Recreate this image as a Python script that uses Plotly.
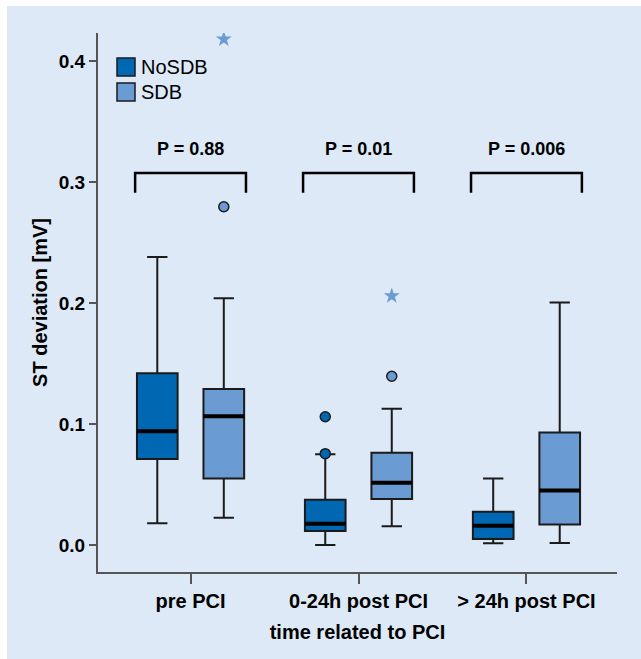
import plotly.graph_objects as go

# ---------------- data ----------------
categories = ["pre PCI", "0-24h post PCI", "> 24h post PCI"]
groups = ["NoSDB", "SDB"]

# box statistics per category (ST deviation, mV)
nosdb_low = [0.018, 0.000, 0.0015]
nosdb_q1 = [0.071, 0.0115, 0.005]
nosdb_med = [0.094, 0.0175, 0.016]
nosdb_q3 = [0.142, 0.0375, 0.0275]
nosdb_high = [0.238, 0.075, 0.055]

sdb_low = [0.0225, 0.0155, 0.0017]
sdb_q1 = [0.055, 0.038, 0.017]
sdb_med = [0.1065, 0.0515, 0.045]
sdb_q3 = [0.129, 0.0763, 0.093]
sdb_high = [0.204, 0.1127, 0.2005]

# outliers: (category index, value)
nosdb_outlier_cat = [1, 1]
nosdb_outlier_val = [0.106, 0.0755]
sdb_outlier_cat = [0, 1]
sdb_outlier_val = [0.2795, 0.1395]
sdb_extreme_cat = [0, 1]
sdb_extreme_val = [0.418, 0.2058]

p_labels = ["P = 0.88", "P = 0.01", "P = 0.006"]

y_ticks = [0.0, 0.1, 0.2, 0.3, 0.4]

# ---------------- styling ----------------
C_NO = "#0067b2"
C_SDB = "#6b9bd3"
BG = "#dde9f6"
EDGE = "#1b1b1b"
AXIS = "#555555"
FONT = "Liberation Sans"

OFF = 0.198      # horizontal offset of each box from category centre
BW = 0.242       # box width (x units)
BRACKET_HALF = 0.33
BRACKET_TOP = 0.3074
BRACKET_BOT = 0.291
P_Y = 0.327

W, H = 641, 659
ML, MR, MT, MB = 98, 24, 33, 87
PW, PH = W - ML - MR, H - MT - MB


def px_x(p):
    return (p - ML) / PW


def px_y(p):
    return (H - MB - p) / PH


idx = list(range(len(categories)))

fig = go.Figure()


def add_boxes(name, color, low, q1, med, q3, high, sign):
    xs = [i + sign * OFF for i in idx]
    fig.add_trace(go.Box(
        x=xs, q1=q1, median=med, q3=q3, lowerfence=low, upperfence=high,
        width=BW, whiskerwidth=0.5, fillcolor=color,
        line=dict(color=EDGE, width=2), boxpoints=False,
        showlegend=False, hoverinfo="skip", name=name,
    ))
    # thicker median lines
    mx, my = [], []
    for x, m in zip(xs, med):
        mx += [x - BW / 2, x + BW / 2, None]
        my += [m, m, None]
    fig.add_trace(go.Scatter(x=mx, y=my, mode="lines",
                             line=dict(color="black", width=4),
                             showlegend=False, hoverinfo="skip"))


add_boxes("NoSDB", C_NO, nosdb_low, nosdb_q1, nosdb_med, nosdb_q3, nosdb_high, -1)
add_boxes("SDB", C_SDB, sdb_low, sdb_q1, sdb_med, sdb_q3, sdb_high, +1)

# outliers
fig.add_trace(go.Scatter(
    x=[c - OFF for c in nosdb_outlier_cat], y=nosdb_outlier_val, mode="markers",
    marker=dict(symbol="circle", size=10, color=C_NO, line=dict(color=EDGE, width=1.5)),
    showlegend=False, hoverinfo="skip"))
fig.add_trace(go.Scatter(
    x=[c + OFF for c in sdb_outlier_cat], y=sdb_outlier_val, mode="markers",
    marker=dict(symbol="circle", size=10, color=C_SDB, line=dict(color=EDGE, width=1.5)),
    showlegend=False, hoverinfo="skip"))
fig.add_trace(go.Scatter(
    x=[c + OFF for c in sdb_extreme_cat], y=sdb_extreme_val, mode="markers",
    marker=dict(symbol="star", size=12, color=C_SDB, line=dict(width=0)),
    showlegend=False, hoverinfo="skip"))

# brackets
bx, by = [], []
for i in idx:
    bx += [i - BRACKET_HALF, i - BRACKET_HALF, i + BRACKET_HALF, i + BRACKET_HALF, None]
    by += [BRACKET_BOT, BRACKET_TOP, BRACKET_TOP, BRACKET_BOT, None]
fig.add_trace(go.Scatter(x=bx, y=by, mode="lines",
                         line=dict(color="black", width=2.5),
                         showlegend=False, hoverinfo="skip"))

for i, t in zip(idx, p_labels):
    fig.add_annotation(x=i, y=P_Y, text=t, showarrow=False,
                       font=dict(family=FONT, size=18, color="black", weight="bold"))

# legend (swatch + label)
for k, (name, color) in enumerate(zip(groups, [C_NO, C_SDB])):
    top = 58 + 25 * k
    fig.add_shape(type="rect", xref="paper", yref="paper",
                  x0=px_x(117), x1=px_x(135), y0=px_y(top + 18), y1=px_y(top),
                  fillcolor=color, line=dict(color=EDGE, width=1.5))
    fig.add_annotation(xref="paper", yref="paper", x=px_x(139), y=px_y(top + 9),
                       xanchor="left", yanchor="middle", text=name, showarrow=False,
                       font=dict(family=FONT, size=20, color="black"))

# blue panel
fig.add_shape(type="rect", xref="paper", yref="paper",
              x0=px_x(7), x1=px_x(W + 5), y0=px_y(H + 5), y1=px_y(6),
              fillcolor=BG, line=dict(width=0), layer="below")

fig.update_layout(
    width=W, height=H,
    margin=dict(l=ML, r=MR, t=MT, b=MB),
    paper_bgcolor="white", plot_bgcolor="rgba(0,0,0,0)",
    font=dict(family=FONT, color="black"),
    showlegend=False,
    xaxis=dict(
        range=[-0.551, 2.539], tickmode="array", tickvals=idx, ticktext=categories,
        showgrid=False, zeroline=False, showline=True, linecolor=AXIS, linewidth=2,
        ticks="outside", ticklen=10, tickwidth=2, tickcolor=AXIS,
        tickfont=dict(family=FONT, size=20, color="black", weight="bold"),
        title=dict(text="time related to PCI", standoff=14,
                   font=dict(family=FONT, size=20, color="black", weight="bold")),
    ),
    yaxis=dict(
        range=[-0.0223, 0.4231], tickmode="array", tickvals=y_ticks,
        tickformat=".1f",
        showgrid=False, zeroline=False, showline=True, linecolor=AXIS, linewidth=2,
        ticks="outside", ticklen=7, tickwidth=2, tickcolor=AXIS,
        tickfont=dict(family=FONT, size=19, color="black", weight="bold"),
        title=dict(text="ST deviation [mV]", standoff=6,
                   font=dict(family=FONT, size=20, color="black", weight="bold")),
    ),
)

fig.write_html("out.html")
